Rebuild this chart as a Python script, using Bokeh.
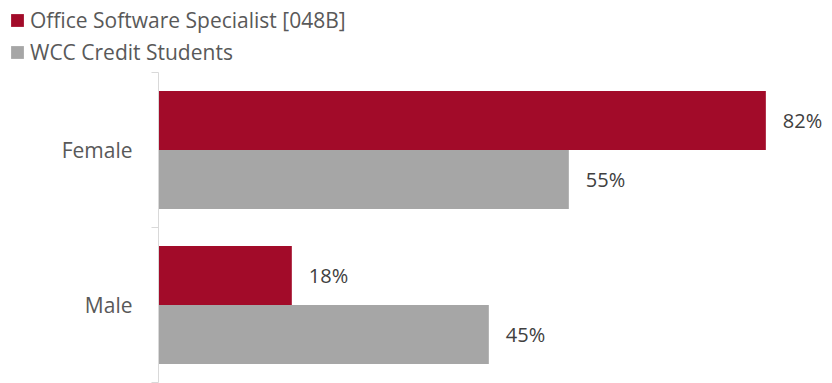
from bokeh.plotting import figure
from bokeh.models import ColumnDataSource, FixedTicker, Legend, LegendItem, Range1d
from bokeh.layouts import column
from bokeh.core.properties import value
from bokeh.embed import file_html
from bokeh.resources import INLINE

categories = ["Female", "Male"]
program_name = "Office Software Specialist [048B]"
wcc_name = "WCC Credit Students"
program = [82.0, 18.0]
wcc = [55.4, 44.6]
program_labels = ["82%", "18%"]
wcc_labels = ["55%", "45%"]

RED = "#A20B29"
GRAY = "#A6A6A6"
FONT = "Open Sans"
TXT = "#595959"

centers = [1.5, 0.5]
bh = 0.38
src_p = ColumnDataSource(dict(y=[c + bh / 2 for c in centers], x=program, lab=program_labels))
src_w = ColumnDataSource(dict(y=[c - bh / 2 for c in centers], x=wcc, lab=wcc_labels))

# legend strip on top
lg = figure(width=832, height=70, output_backend="svg", toolbar_location=None,
            x_range=Range1d(0, 1), y_range=Range1d(0, 1),
            x_axis_location=None, y_axis_location=None,
            min_border_left=3, min_border_right=0, min_border_top=0, min_border_bottom=0)
lg.frame_align = False
lg.outline_line_color = None
lg.xgrid.visible = False
lg.ygrid.visible = False
e1 = lg.hbar(y=[-10], right=[1], left=0, height=1, color=RED, line_color=None)
e2 = lg.hbar(y=[-10], right=[1], left=0, height=1, color=GRAY, line_color=None)
legend = Legend(items=[LegendItem(label=program_name, renderers=[e1]),
                       LegendItem(label=wcc_name, renderers=[e2])],
                location="top_left", orientation="vertical",
                glyph_width=16, glyph_height=16, label_standoff=5,
                label_text_font=FONT, label_text_font_size="21px",
                label_text_color=TXT, label_height=24, spacing=4, padding=6,
                margin=6, border_line_color=None, background_fill_alpha=0)
lg.add_layout(legend, "center")

p = figure(width=832, height=313, output_backend="svg", toolbar_location=None,
           x_range=Range1d(0, 91), y_range=Range1d(0, 2),
           x_axis_location=None, min_border_left=158, min_border_right=0,
           min_border_top=2, min_border_bottom=1)
p.frame_align = False
p.outline_line_color = None
p.xgrid.visible = False
p.ygrid.visible = False

r1 = p.hbar(y="y", right="x", left=0, height=bh, source=src_p, color=RED, line_color=None)
r2 = p.hbar(y="y", right="x", left=0, height=bh, source=src_w, color=GRAY, line_color=None)

for s in (src_p, src_w):
    p.text(x="x", y="y", text="lab", source=s, x_offset=17, text_baseline="middle",
           text_align="left", text_font=value(FONT), text_font_size="20px",
           text_color="#404040")

ax = p.yaxis[0]
ax.ticker = FixedTicker(ticks=centers, minor_ticks=[0, 1, 2])
ax.major_label_overrides = {c: n for c, n in zip(centers, categories)}
ax.major_tick_out = 0
ax.major_tick_in = 0
ax.minor_tick_out = 7
ax.minor_tick_in = 0
ax.minor_tick_line_color = "#D9D9D9"
ax.axis_line_color = "#D9D9D9"
ax.axis_line_width = 1
ax.major_label_standoff = 19
ax.major_label_text_font = FONT
ax.major_label_text_font_size = "21px"
ax.major_label_text_color = TXT

open("out.html", "w").write(file_html(column(lg, p, spacing=0), INLINE))
